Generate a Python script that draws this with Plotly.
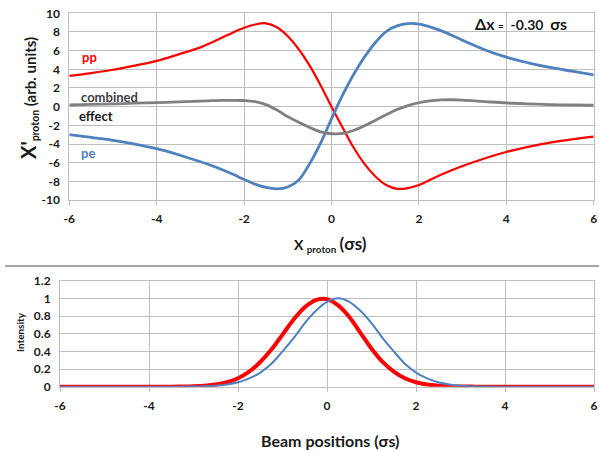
import plotly.graph_objects as go

# ---- upper panel: deflection x' of the proton vs. position ----
kick_x = [-6, -5.5, -5, -4.5, -4, -3.5, -3, -2.75, -2.5, -2.25, -2, -1.75, -1.5, -1.25, -1, -0.75, -0.5, -0.25,
          0, 0.25, 0.5, 0.75, 1, 1.25, 1.5, 1.75, 2, 2.25, 2.5, 2.75, 3, 3.5, 4, 4.5, 5, 5.5, 6]

pp_y = [3.3, 3.6, 3.95, 4.4, 4.9, 5.6, 6.35, 6.85, 7.4, 7.95, 8.45, 8.8, 8.93, 8.5, 7.55, 6.15, 4.4, 2.3,
        0.0, -2.2, -4.35, -6.1, -7.45, -8.4, -8.8, -8.72, -8.4, -7.85, -7.3, -6.8, -6.35, -5.55, -4.85, -4.3, -3.85, -3.5, -3.2]

pe_y = [-3.0, -3.3, -3.6, -4.0, -4.5, -5.15, -5.9, -6.3, -6.75, -7.25, -7.8, -8.3, -8.65, -8.8, -8.6, -7.85, -6.1, -3.9,
        -1.3, 1.2, 3.4, 5.3, 6.85, 8.05, 8.65, 8.9, 8.85, 8.55, 8.15, 7.65, 7.1, 6.1, 5.3, 4.7, 4.2, 3.8, 3.4]

comb_y = [0.18, 0.24, 0.3, 0.37, 0.43, 0.52, 0.6, 0.64, 0.67, 0.68, 0.66, 0.55, 0.22, -0.36, -1.07, -1.68, -2.23, -2.71,
          -2.9, -2.87, -2.55, -2.05, -1.47, -0.87, -0.3, 0.12, 0.42, 0.62, 0.72, 0.74, 0.7, 0.55, 0.4, 0.3, 0.22, 0.18, 0.15]

# ---- lower panel: beam intensity profiles ----
prof_x = [-6, -5, -4, -3.5, -3.25, -3, -2.75, -2.5, -2.25, -2, -1.75, -1.5, -1.25, -1, -0.75, -0.5, -0.25,
          0, 0.25, 0.5, 0.75, 1, 1.25, 1.5, 1.75, 2, 2.25, 2.5, 2.75, 3, 3.25, 3.5, 4, 5, 6]

prof_red_y = [0, 0, 0, 0, 0.002, 0.005, 0.011, 0.024, 0.05, 0.095, 0.17, 0.28, 0.42, 0.59, 0.76, 0.9, 0.98,
              0.99, 0.92, 0.79, 0.61, 0.43, 0.28, 0.17, 0.095, 0.05, 0.024, 0.011, 0.005, 0.002, 0.001, 0, 0, 0, 0]

prof_blue_y = [0, 0, 0, 0, 0.001, 0.002, 0.005, 0.011, 0.025, 0.05, 0.094, 0.16, 0.26, 0.4, 0.55, 0.72, 0.86,
               0.96, 1.0, 0.96, 0.86, 0.72, 0.55, 0.4, 0.26, 0.16, 0.094, 0.05, 0.025, 0.011, 0.005, 0.002, 0, 0, 0]

# tick positions and their printed labels (plain hyphen minus)
x_ticks = [-6, -4, -2, 0, 2, 4, 6]
x_tick_text = ["-6", "-4", "-2", "0", "2", "4", "6"]
kick_ticks = [-10, -8, -6, -4, -2, 0, 2, 4, 6, 8, 10]
kick_tick_text = ["-10", "-8", "-6", "-4", "-2", "0", "2", "4", "6", "8", "10"]
int_ticks = [0, 0.2, 0.4, 0.6, 0.8, 1.0, 1.2]
int_tick_text = ["0", "0.2", "0.4", "0.6", "0.8", "1", "1.2"]

RED = "#FF0000"
BLUE = "#4F81BD"
GREY = "#808080"
GRID = "#BFBFBF"
FONT = "Lato, 'Open Sans', sans-serif"

fig = go.Figure()

fig.add_trace(go.Scatter(x=kick_x, y=pp_y, mode="lines", line=dict(color=RED, width=2.2, shape="spline"),
                         xaxis="x", yaxis="y", showlegend=False))
fig.add_trace(go.Scatter(x=kick_x, y=pe_y, mode="lines", line=dict(color=BLUE, width=2.8, shape="spline"),
                         xaxis="x", yaxis="y", showlegend=False))
fig.add_trace(go.Scatter(x=kick_x, y=comb_y, mode="lines", line=dict(color=GREY, width=2.8, shape="spline"),
                         xaxis="x", yaxis="y", showlegend=False))

fig.add_trace(go.Scatter(x=prof_x, y=prof_red_y, mode="lines", line=dict(color=RED, width=4, shape="spline"),
                         xaxis="x2", yaxis="y2", showlegend=False))
fig.add_trace(go.Scatter(x=prof_x, y=prof_blue_y, mode="lines", line=dict(color=BLUE, width=2, shape="spline"),
                         xaxis="x2", yaxis="y2", showlegend=False))

tickfont = dict(family=FONT, size=12, color="#1a1a1a", weight="bold")

common_x = dict(range=[-6, 6], tickvals=x_ticks, ticktext=x_tick_text, showgrid=True, gridcolor=GRID,
                gridwidth=1, zeroline=False, showline=True, linecolor=GRID, mirror=True, automargin=False,
                ticks="outside", ticklen=4, tickcolor=GRID, tickfont=tickfont, ticklabelstandoff=4)
common_y = dict(showgrid=True, gridcolor=GRID, gridwidth=1, zeroline=False, automargin=False,
                showline=True, linecolor=GRID, mirror=True, ticks="", tickfont=tickfont,
                ticklabelstandoff=6)

fig.update_layout(
    width=599, height=451,
    margin=dict(l=0, r=0, t=0, b=0, autoexpand=False),
    paper_bgcolor="white", plot_bgcolor="white",
    xaxis=dict(domain=[0.1157, 0.9912], anchor="y", **common_x),
    yaxis=dict(domain=[0.5565, 0.9705], anchor="x", range=[-10, 10],
               tickvals=kick_ticks, ticktext=kick_tick_text, **common_y),
    xaxis2=dict(domain=[0.1002, 0.9917], anchor="y2", **common_x),
    yaxis2=dict(domain=[0.1426, 0.3776], anchor="x2", range=[0, 1.2],
                tickvals=int_ticks, ticktext=int_tick_text, **common_y),
)

def label(text, x, y, color="#1a1a1a", size=13, xref="x", yref="y", angle=0, xanchor="center"):
    fig.add_annotation(text=text, x=x, y=y, xref=xref, yref=yref, showarrow=False,
                       textangle=angle, xanchor=xanchor, yanchor="middle",
                       font=dict(family=FONT, size=size, color=color, weight="bold"))

# curve labels
label("pp", -5.53, 5.33, color=RED)
label("combined", -5.09, 1.04, color="#404040")
label("effect", -5.38, -1.0, color="#1a1a1a")
label("pe", -5.57, -4.96, color=BLUE)
label("<span style='font-size:16px'>Δx</span> <span style='font-size:10px'>=</span>  -0.30  "
      "<span style='font-size:16px'>σs</span>",
      3.24, 8.86, size=14, xanchor="left")

# axis titles
label("<span style='font-size:20px'>X'</span><sub>proton</sub> (arb. units)",
      28 / 599, 1 - 98 / 451, size=15, xref="paper", yref="paper", angle=-90)
label("X <sub>proton</sub> <span style='font-size:17px'>(σs)</span>",
      330 / 599, 1 - 244 / 451, size=14, xref="paper", yref="paper")
label("Intensity", 20 / 599, 1 - 332 / 451, size=10, xref="paper", yref="paper", angle=-90)
label("Beam positions (σs)", 330 / 599, 1 - 440 / 451, size=16, xref="paper", yref="paper")

# divider between the two panels
fig.add_shape(type="line", xref="paper", yref="paper", x0=5 / 599, x1=1, y0=1 - 266 / 451, y1=1 - 266 / 451,
              line=dict(color="#A6A6A6", width=2))

fig.write_html("out.html")
